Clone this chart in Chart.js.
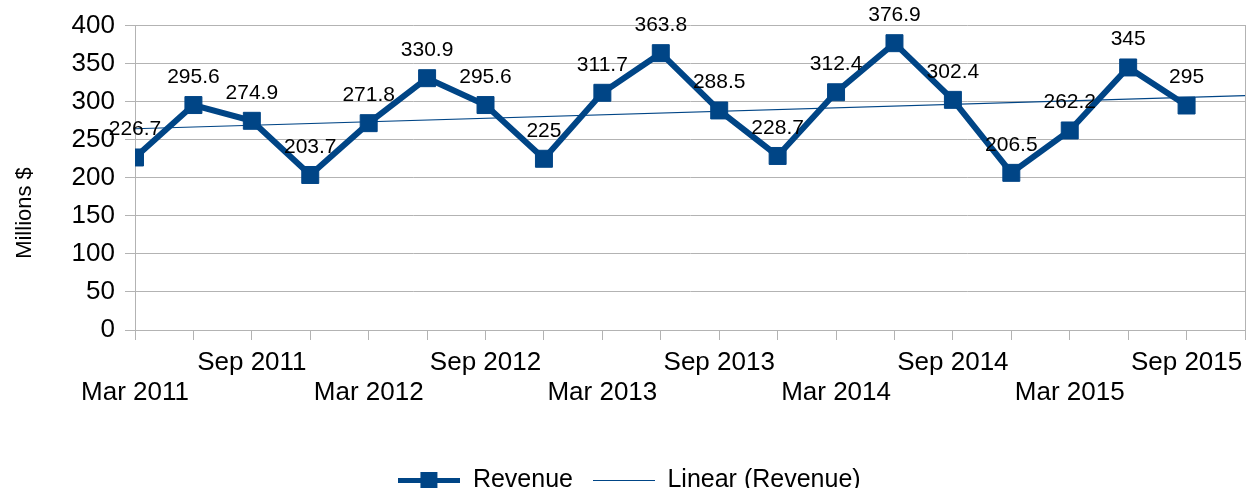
<!DOCTYPE html>
<html>
<head>
<meta charset="utf-8">
<script src="https://cdn.jsdelivr.net/npm/chart.js@4/dist/chart.umd.min.js"></script>
<style>
html,body{margin:0;padding:0;background:#fff;}
canvas{display:block;}
</style>
</head>
<body>
<canvas id="c" width="1254" height="493"></canvas>
<script>
// ---- data ----
const categories = ['Mar 2011','Jun 2011','Sep 2011','Dec 2011','Mar 2012','Jun 2012','Sep 2012','Dec 2012',
  'Mar 2013','Jun 2013','Sep 2013','Dec 2013','Mar 2014','Jun 2014','Sep 2014','Dec 2014',
  'Mar 2015','Jun 2015','Sep 2015'];
const revenue = [226.7,295.6,274.9,203.7,271.8,330.9,295.6,225,311.7,363.8,288.5,228.7,312.4,376.9,302.4,206.5,262.2,345,295];
const yTicks = [0,50,100,150,200,250,300,350,400];
const seriesNames = ['Revenue','Linear (Revenue)'];
const yTitle = 'Millions $';

// ---- styles ----
const BLUE = '#004586';
const GRID = '#b3b3b3';
const FONT = '"Liberation Sans", Arial, sans-serif';

// linear regression trend over the revenue series
const n = revenue.length;
const mx = (n - 1) / 2;
const my = revenue.reduce((a, b) => a + b, 0) / n;
let sxy = 0, sxx = 0;
revenue.forEach((v, i) => { sxy += (i - mx) * (v - my); sxx += (i - mx) * (i - mx); });
const slope = sxy / sxx;
const intercept = my - slope * mx;
const xMax = categories.length; // axis extends one slot beyond the last point
const trend = [{x: 0, y: intercept}, {x: xMax, y: intercept + slope * xMax}];

function legendIcon(withMarker) {
  const c = document.createElement('canvas');
  c.width = 62; c.height = 19;
  const g = c.getContext('2d');
  g.strokeStyle = BLUE;
  g.lineWidth = withMarker ? 5 : 1;
  g.beginPath(); g.moveTo(0, 9.5); g.lineTo(62, 9.5); g.stroke();
  if (withMarker) { g.fillStyle = BLUE; g.fillRect(22, 1, 17, 17); }
  return c;
}
const icons = [legendIcon(true), legendIcon(false)];

const dataLabels = {
  id: 'dataLabels',
  afterDatasetsDraw(chart) {
    const ctx = chart.ctx;
    const meta = chart.getDatasetMeta(0);
    ctx.save();
    ctx.font = '21px ' + FONT;
    ctx.fillStyle = '#000';
    ctx.textAlign = 'center';
    ctx.textBaseline = 'middle';
    meta.data.forEach((el, i) => {
      ctx.fillText(String(revenue[i]), el.x, el.y - 28);
    });
    ctx.restore();
  }
};

const yTitlePlugin = {
  id: 'yTitlePlugin',
  afterDraw(chart) {
    const ctx = chart.ctx;
    ctx.save();
    ctx.translate(25, 213);
    ctx.rotate(-Math.PI / 2);
    ctx.font = '22px ' + FONT;
    ctx.fillStyle = '#000';
    ctx.textAlign = 'center';
    ctx.textBaseline = 'middle';
    ctx.fillText(yTitle, 0, 0);
    ctx.restore();
  }
};

new Chart(document.getElementById('c'), {
  type: 'line',
  data: {
    datasets: [
      {
        label: seriesNames[0],
        data: revenue.map((v, i) => ({x: i, y: v})),
        borderColor: BLUE,
        backgroundColor: BLUE,
        borderWidth: 6,
        pointStyle: 'rect',
        pointRadius: 12,
        pointBackgroundColor: BLUE,
        pointBorderColor: BLUE,
        pointBorderWidth: 1,
        tension: 0,
        order: 1
      },
      {
        label: seriesNames[1],
        data: trend,
        borderColor: BLUE,
        borderWidth: 1.2,
        pointRadius: 0,
        tension: 0,
        order: 2
      }
    ]
  },
  options: {
    responsive: false,
    animation: false,
    events: [],
    layout: {autoPadding: false, padding: {top: 25, right: 9, left: 14, bottom: 5}},
    scales: {
      x: {
        type: 'linear',
        min: 0,
        max: xMax,
        afterFit(s) { s.height = 118; s.paddingRight = 0; s.paddingLeft = 0; },
        ticks: {
          stepSize: 1,
          maxTicksLimit: 40,
          autoSkip: false,
          maxRotation: 0,
          minRotation: 0,
          padding: 8,
          color: '#000',
          font: {family: FONT, size: 26, lineHeight: 1.15},
          callback(v) {
            const lab = categories[v];
            if (!lab) return '';
            if (lab.startsWith('Mar')) return ['', lab];
            if (lab.startsWith('Sep')) return lab;
            return '';
          }
        },
        grid: {drawOnChartArea: false, color: GRID, tickLength: 10, lineWidth: 1},
        border: {display: true, color: GRID}
      },
      y: {
        min: 0,
        max: 400,
        afterFit(s) { s.width = 121; },
        afterBuildTicks(s) { s.ticks = yTicks.map(v => ({value: v})); },
        ticks: {
          padding: 10,
          color: '#000',
          font: {family: FONT, size: 26}
        },
        grid: {color: GRID, tickLength: 10, lineWidth: 1},
        border: {display: true, color: GRID}
      },
      y2: {
        position: 'right',
        display: true,
        afterFit(s) { s.width = 0; s.paddingTop = 0; s.paddingBottom = 0; },
        ticks: {display: false},
        grid: {display: false},
        border: {display: true, color: GRID, width: 1}
      }
    },
    plugins: {
      tooltip: {enabled: false},
      legend: {
        position: 'bottom',
        maxHeight: 40,
        labels: {
          usePointStyle: true,
          pointStyleWidth: 62,
          padding: 20,
          color: '#000',
          font: {family: FONT, size: 25},
          generateLabels() {
            return seriesNames.map((name, i) => ({
              text: name,
              pointStyle: icons[i],
              fillStyle: BLUE,
              strokeStyle: BLUE,
              lineWidth: 0,
              hidden: false,
              datasetIndex: i,
              fontColor: '#000'
            }));
          }
        }
      }
    }
  },
  plugins: [dataLabels, yTitlePlugin]
});
</script>
</body>
</html>
